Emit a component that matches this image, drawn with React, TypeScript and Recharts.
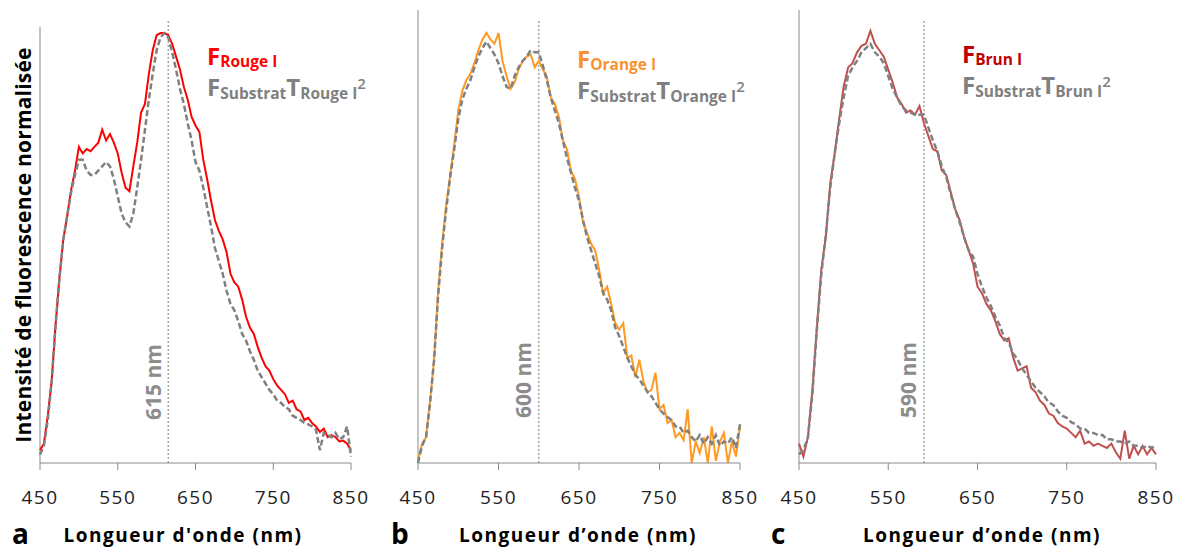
import { Line, LineChart, ReferenceLine, XAxis, YAxis } from "recharts";

const FONT = '"Open Sans", sans-serif';
const GRAY = "#808080";
const AXIS = "#8a8a8a";

// wavelength grid (nm), shared by every series
const wavelengths = [
  450, 455, 460, 465, 470, 475, 480, 485, 490, 495, 500, 505, 510, 515, 520, 525, 530, 535, 540, 545,
  550, 555, 560, 565, 570, 575, 580, 585, 590, 595, 600, 605, 610, 615, 620, 625, 630, 635, 640, 645,
  650, 655, 660, 665, 670, 675, 680, 685, 690, 695, 700, 705, 710, 715, 720, 725, 730, 735, 740, 745,
  750, 755, 760, 765, 770, 775, 780, 785, 790, 795, 800, 805, 810, 815, 820, 825, 830, 835, 840, 845,
  850,
];
const xTicks = [450, 550, 650, 750, 850];

// a — Rouge I
const rougeI = [
  0.03, 0.045, 0.11, 0.19, 0.32, 0.43, 0.52, 0.575, 0.635, 0.68, 0.735, 0.72, 0.73, 0.725, 0.735, 0.745,
  0.775, 0.75, 0.765, 0.745, 0.72, 0.675, 0.64, 0.632, 0.69, 0.745, 0.815, 0.835, 0.905, 0.96, 0.995,
  1.0, 1.0, 0.995, 0.975, 0.945, 0.915, 0.875, 0.845, 0.805, 0.785, 0.77, 0.705, 0.66, 0.61, 0.565,
  0.54, 0.52, 0.49, 0.44, 0.42, 0.41, 0.38, 0.34, 0.315, 0.3, 0.27, 0.245, 0.225, 0.215, 0.195, 0.18,
  0.17, 0.16, 0.14, 0.145, 0.125, 0.12, 0.1, 0.105, 0.093, 0.085, 0.072, 0.08, 0.06, 0.065, 0.06, 0.05,
  0.052, 0.045, 0.03,
];
const substratRouge = [
  0.02, 0.04, 0.1, 0.19, 0.32, 0.43, 0.52, 0.575, 0.63, 0.67, 0.705, 0.705, 0.68, 0.67, 0.67, 0.68,
  0.69, 0.7, 0.69, 0.66, 0.62, 0.58, 0.56, 0.55, 0.58, 0.64, 0.705, 0.775, 0.845, 0.905, 0.96, 0.99,
  1.0, 0.99, 0.955, 0.915, 0.87, 0.835, 0.79, 0.75, 0.7, 0.68, 0.64, 0.595, 0.55, 0.5, 0.47, 0.44,
  0.4, 0.37, 0.355, 0.33, 0.3, 0.285, 0.26, 0.24, 0.215, 0.2, 0.185, 0.17, 0.16, 0.145, 0.14, 0.13,
  0.125, 0.11, 0.105, 0.1, 0.093, 0.09, 0.085, 0.077, 0.03, 0.07, 0.065, 0.06, 0.07, 0.055, 0.06, 0.085,
  0.015,
];

// b — Orange I
const orangeI = [
  0.007, 0.045, 0.06, 0.145, 0.24, 0.4, 0.51, 0.6, 0.67, 0.74, 0.82, 0.865, 0.89, 0.905, 0.93, 0.96,
  0.985, 1.0, 0.985, 0.975, 1.0, 0.935, 0.9, 0.87, 0.885, 0.915, 0.935, 0.945, 0.95, 0.92, 0.935,
  0.915, 0.9, 0.85, 0.835, 0.805, 0.75, 0.73, 0.68, 0.66, 0.62, 0.56, 0.535, 0.51, 0.495, 0.45, 0.395,
  0.41, 0.37, 0.325, 0.31, 0.325, 0.245, 0.25, 0.2, 0.24, 0.19, 0.165, 0.17, 0.21, 0.125, 0.135, 0.093,
  0.1, 0.06, 0.07, 0.053, 0.125, 0.0, 0.05, 0.023, 0.06, 0.0, 0.085, 0.005, 0.05, 0.07, 0.0, 0.05,
  0.015, 0.085,
];
const substratOrange = [
  0.0, 0.04, 0.06, 0.14, 0.24, 0.39, 0.5, 0.59, 0.665, 0.73, 0.8, 0.845, 0.87, 0.89, 0.92, 0.945, 0.965,
  0.98, 0.965, 0.95, 0.93, 0.9, 0.875, 0.87, 0.9, 0.92, 0.935, 0.945, 0.96, 0.955, 0.955, 0.925, 0.89,
  0.85, 0.82, 0.79, 0.75, 0.71, 0.675, 0.64, 0.61, 0.565, 0.525, 0.495, 0.465, 0.435, 0.395, 0.38,
  0.355, 0.315, 0.295, 0.27, 0.245, 0.225, 0.205, 0.195, 0.18, 0.165, 0.155, 0.14, 0.125, 0.115, 0.107,
  0.1, 0.085, 0.085, 0.07, 0.075, 0.06, 0.05, 0.065, 0.045, 0.06, 0.045, 0.065, 0.04, 0.05, 0.045,
  0.06, 0.035, 0.09,
];

// c — Brun I
const brunI = [
  0.045, 0.015, 0.06, 0.17, 0.315, 0.45, 0.525, 0.65, 0.72, 0.8, 0.875, 0.92, 0.93, 0.955, 0.97, 0.975,
  1.005, 0.975, 0.96, 0.945, 0.915, 0.885, 0.85, 0.835, 0.815, 0.82, 0.81, 0.83, 0.79, 0.76, 0.73,
  0.725, 0.68, 0.67, 0.63, 0.59, 0.565, 0.525, 0.495, 0.465, 0.41, 0.395, 0.37, 0.355, 0.33, 0.3,
  0.285, 0.29, 0.245, 0.215, 0.22, 0.225, 0.175, 0.165, 0.145, 0.135, 0.115, 0.11, 0.093, 0.085, 0.08,
  0.07, 0.06, 0.075, 0.045, 0.05, 0.04, 0.045, 0.04, 0.035, 0.045, 0.025, 0.01, 0.075, 0.01, 0.04,
  0.02, 0.04, 0.02, 0.035, 0.02,
];
const substratBrun = [
  0.02, 0.03, 0.06, 0.16, 0.31, 0.44, 0.53, 0.64, 0.72, 0.79, 0.85, 0.9, 0.92, 0.935, 0.955, 0.965,
  0.975, 0.955, 0.945, 0.93, 0.9, 0.87, 0.85, 0.83, 0.82, 0.815, 0.81, 0.81, 0.81, 0.78, 0.75, 0.725,
  0.69, 0.665, 0.625, 0.59, 0.56, 0.525, 0.495, 0.48, 0.44, 0.41, 0.385, 0.365, 0.34, 0.32, 0.29, 0.28,
  0.255, 0.24, 0.22, 0.205, 0.19, 0.175, 0.165, 0.155, 0.14, 0.135, 0.12, 0.11, 0.105, 0.095, 0.09,
  0.08, 0.08, 0.07, 0.07, 0.065, 0.065, 0.055, 0.055, 0.05, 0.05, 0.045, 0.05, 0.04, 0.04, 0.035, 0.04,
  0.035, 0.04,
];

const Y_MAX = 1.0535;

function Panel({
  left,
  width,
  marginLeft,
  marginRight,
  sample,
  substrat,
  color,
  peak,
  axisTop,
}: {
  left: number;
  width: number;
  marginLeft: number;
  marginRight: number;
  sample: number[];
  substrat: number[];
  color: string;
  peak: number;
  axisTop: number;
}) {
  const data = wavelengths.map((nm, i) => ({ nm, sample: sample[i], substrat: substrat[i] }));
  return (
    <div style={{ position: "absolute", left, top: 0 }}>
      <LineChart
        width={width}
        height={553}
        data={data}
        margin={{ top: 10, right: marginRight, bottom: 40, left: marginLeft }}
      >
        <XAxis
          dataKey="nm"
          type="number"
          domain={[450, 850]}
          ticks={xTicks}
          interval={0}
          height={50}
          stroke={AXIS}
          tickSize={7}
          tickMargin={21}
          tick={{ fill: "#222", fontSize: 19, fontFamily: FONT, letterSpacing: 1.5 }}
        />
        <YAxis hide type="number" domain={[0, Y_MAX]} allowDataOverflow />
        <ReferenceLine
          segment={[
            { x: 450, y: 0 },
            { x: 450, y: axisTop },
          ]}
          stroke={AXIS}
          strokeWidth={1}
        />
        <ReferenceLine
          segment={[
            { x: peak, y: 0 },
            { x: peak, y: 1.028 },
          ]}
          stroke="#a6a6a6"
          strokeWidth={1.5}
          strokeDasharray="2 2"
        />
        <Line
          dataKey="sample"
          stroke={color}
          strokeWidth={2}
          dot={false}
          isAnimationActive={false}
        />
        <Line
          dataKey="substrat"
          stroke={GRAY}
          strokeWidth={2.5}
          strokeDasharray="6 3"
          dot={false}
          isAnimationActive={false}
        />
      </LineChart>
    </div>
  );
}

function Legend({ x, y, color, name }: { x: number; y: number; color: string; name: string }) {
  return (
    <g fontFamily={FONT} fontWeight={700}>
      <text x={x} y={y} fill={color}>
        <tspan fontSize={24}>F</tspan>
        <tspan fontSize={15.5} dy={2}>
          {name}
        </tspan>
      </text>
      <text x={x} y={y + 31} fill={GRAY}>
        <tspan fontSize={24}>F</tspan>
        <tspan fontSize={15.5} dy={3}>
          Substrat
        </tspan>
        <tspan fontSize={24} dy={-3}>
          T
        </tspan>
        <tspan fontSize={15.5} dy={3}>
          {name}
        </tspan>
        <tspan fontSize={15} fontWeight={600} dy={-10}>
          2
        </tspan>
      </text>
    </g>
  );
}

export default function App() {
  return (
    <div style={{ position: "absolute", left: 0, top: 0, width: 1181, height: 553, background: "#fff" }}>
      <Panel
        left={0}
        width={380}
        marginLeft={40}
        marginRight={29}
        sample={rougeI}
        substrat={substratRouge}
        color="#ff0000"
        peak={615}
        axisTop={1.014}
      />
      <Panel
        left={380}
        width={400}
        marginLeft={38}
        marginRight={40}
        sample={orangeI}
        substrat={substratOrange}
        color="#ff9922"
        peak={600}
        axisTop={Y_MAX}
      />
      <Panel
        left={770}
        width={411}
        marginLeft={29}
        marginRight={25}
        sample={brunI}
        substrat={substratBrun}
        color="#c0504d"
        peak={590}
        axisTop={Y_MAX}
      />
      <svg
        width={1181}
        height={553}
        style={{ position: "absolute", left: 0, top: 0, pointerEvents: "none" }}
        fontFamily={FONT}
      >
        <text
          x={31}
          y={245}
          transform="rotate(-90 31 245)"
          textAnchor="middle"
          fontSize={21}
          fontWeight={700}
          letterSpacing={0.2}
          fill="#000"
        >
          Intensité de fluorescence normalisée
        </text>

        <text x={161} y={382} transform="rotate(-90 161 382)" textAnchor="middle" fontSize={21} fontWeight={700} fill="#8c8c8c">
          615 nm
        </text>
        <text x={531} y={380} transform="rotate(-90 531 380)" textAnchor="middle" fontSize={21} fontWeight={700} fill="#8c8c8c">
          600 nm
        </text>
        <text x={916} y={380} transform="rotate(-90 916 380)" textAnchor="middle" fontSize={21} fontWeight={700} fill="#8c8c8c">
          590 nm
        </text>

        <Legend x={207} y={65} color="#ff0000" name="Rouge I" />
        <Legend x={577} y={68} color="#f7922e" name="Orange I" />
        <Legend x={962} y={63} color="#c00000" name="Brun I" />

        <g fontWeight={700} fill="#000">
          <text x={12} y={544} fontSize={28}>a</text>
          <text x={391} y={544} fontSize={28}>b</text>
          <text x={771} y={544} fontSize={28}>c</text>
          <text x={183} y={542} fontSize={19} textAnchor="middle" letterSpacing={1.5}>
            Longueur d'onde (nm)
          </text>
          <text x={578} y={542} fontSize={19} textAnchor="middle" letterSpacing={1.5}>
            Longueur d’onde (nm)
          </text>
          <text x={982} y={542} fontSize={19} textAnchor="middle" letterSpacing={1.5}>
            Longueur d’onde (nm)
          </text>
        </g>
      </svg>
    </div>
  );
}
